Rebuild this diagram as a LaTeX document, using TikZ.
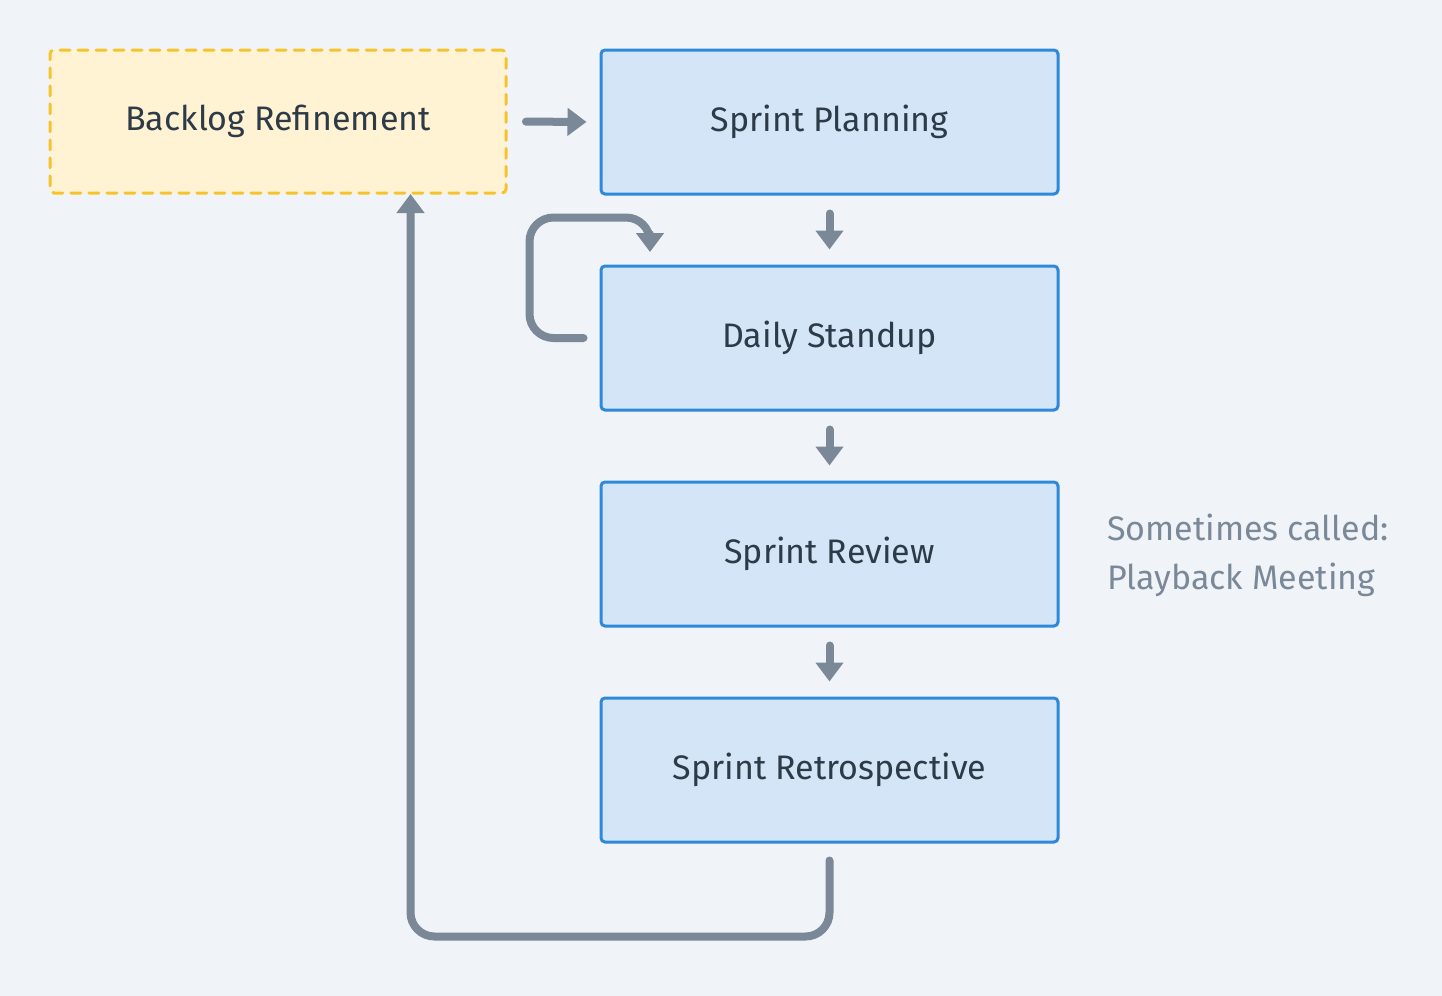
\documentclass[tikz,border=0pt]{standalone}
\usepackage{fontspec}
\setmainfont{Fira Sans}
\usetikzlibrary{arrows.meta}
\definecolor{bgc}{HTML}{F0F4F8}
\definecolor{boxfill}{HTML}{D3E5F6}
\definecolor{boxline}{HTML}{2E89DB}
\definecolor{txt}{HTML}{2D3A48}
\definecolor{arr}{HTML}{7A8898}
\definecolor{yfill}{HTML}{FFF3D4}
\definecolor{yline}{HTML}{F5C42C}
\definecolor{note}{HTML}{7A8898}
\tikzset{
  stage/.style={draw=boxline, fill=boxfill, line width=1.5pt, rounded corners=2pt,
    minimum width=228.5pt, minimum height=72pt, inner sep=0pt,
    font=\fontsize{17}{20}\selectfont, text=txt},
  optional/.style={draw=yline, fill=yfill, line width=1.5pt, rounded corners=2pt,
    dash pattern=on 5pt off 4pt, line cap=round,
    minimum width=228pt, minimum height=71.5pt, inner sep=0pt,
    font=\fontsize{17}{20}\selectfont, text=txt},
  flow/.style={draw=arr, line width=4pt, line cap=round,
    -{Triangle[length=9.5pt,width=13.5pt]}},
  notetext/.style={text=note, font=\fontsize{17}{24.5}\selectfont, align=left, inner sep=0pt}
}
\begin{document}
\begin{tikzpicture}[x=0.5pt,y=-0.5pt]
\fill[bgc] (0,0) rectangle (1442,996);
\useasboundingbox (0,0) rectangle (1442,996);
\node[optional] (bl) at (278,121.5) {Backlog Refinement};
\node[stage] (sp) at (829.5,122) {Sprint Planning};
\node[stage] (sd) at (829.5,338) {Daily Standup};
\node[stage] (sr) at (829.5,554) {Sprint Review};
\node[stage] (st) at (829.5,770) {Sprint Retrospective};
\node[notetext, anchor=west] (nt) at (1107,555) {Sometimes called:\\Playback Meeting};
\draw[flow, shorten <=9.25pt, shorten >=6.5pt] (bl.east) -- (sp.west);
\draw[flow, shorten <=9pt, shorten >=7.5pt] (sp.south) -- (sd.north);
\draw[flow, shorten <=9pt, shorten >=7.5pt] (sd.south) -- (sr.north);
\draw[flow, shorten <=9pt, shorten >=7.5pt] (sr.south) -- (st.north);
\coordinate (loopend) at (650,252);
\coordinate (loopleft) at (529.5,217.5);
\coordinate (loopright) at (650,217.5);
\draw[flow, rounded corners=12pt] ([xshift=-8pt]sd.west) -| (loopleft) -- (loopright) [rounded corners=7.5pt] -- (loopend);
\coordinate (retbottom) at (410.5,936.5);
\coordinate (rettop) at (410.5,194);
\draw[flow, rounded corners=12pt] ([yshift=-8.5pt]st.south) |- (retbottom) -- (rettop);
\end{tikzpicture}
\end{document}
